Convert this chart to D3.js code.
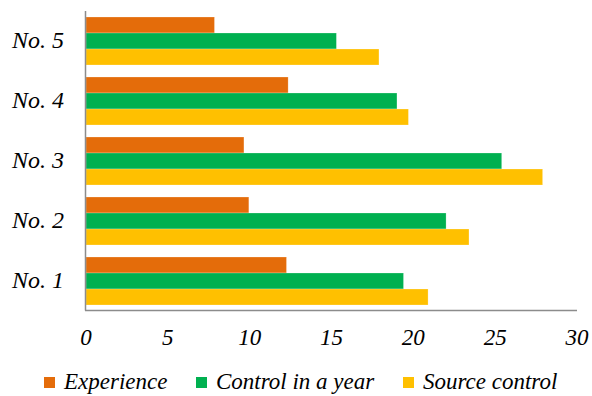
<!DOCTYPE html>
<html>
<head>
<meta charset="utf-8">
<script src="https://cdn.jsdelivr.net/npm/d3@7"></script>
<style>
  body { margin: 0; background: #fff; }
</style>
</head>
<body>
<div id="chart"></div>
<script>
const categories = ["No. 1", "No. 2", "No. 3", "No. 4", "No. 5"];
const seriesNames = ["Experience", "Control in a year", "Source control"];
const experience = [12.25, 9.95, 9.65, 12.35, 7.85];
const controlYear = [19.4, 22.0, 25.4, 19.0, 15.3];
const sourceControl = [20.9, 23.4, 27.9, 19.7, 17.9];
const xTicks = [0, 5, 10, 15, 20, 25, 30];
const colors = ["#E46C0A", "#00B050", "#FFC000"];

const W = 592, H = 396;
const FONT = "'Liberation Serif', 'Times New Roman', serif";

const svg = d3.select("#chart").append("svg")
    .attr("width", W)
    .attr("height", H)
    .attr("font-family", FONT)
    .attr("font-style", "italic");

const x = d3.scaleLinear().domain([0, 30]).range([86, 577]);

// top category (No. 5) drawn first
const y = d3.scaleBand()
    .domain(categories.slice().reverse())
    .range([11, 311])
    .paddingInner(0.2)
    .paddingOuter(0.1);

const sub = d3.scaleBand()
    .domain(seriesNames)
    .range([0, y.bandwidth()]);

const allSeries = [experience, controlYear, sourceControl];
const rows = [];
categories.forEach((c, i) => {
    seriesNames.forEach((s, j) => {
        rows.push({ cat: c, series: s, value: allSeries[j][i], color: colors[j] });
    });
});

svg.append("g").selectAll("rect")
    .data(rows)
    .join("rect")
    .attr("x", x(0))
    .attr("y", d => y(d.cat) + sub(d.series))
    .attr("width", d => x(d.value) - x(0))
    .attr("height", sub.bandwidth())
    .attr("fill", d => d.color)
    .attr("stroke", "#fff")
    .attr("stroke-opacity", 0.4)
    .attr("stroke-width", 0.6);

// axis lines
svg.append("line")
    .attr("x1", 85.5).attr("x2", 85.5)
    .attr("y1", 11).attr("y2", 310.5)
    .attr("stroke", "#8c8c8c").attr("stroke-width", 1.5);
svg.append("line")
    .attr("x1", 85).attr("x2", 577)
    .attr("y1", 310.5).attr("y2", 310.5)
    .attr("stroke", "#8c8c8c").attr("stroke-width", 1.5);

// x tick labels
svg.append("g").selectAll("text")
    .data(xTicks)
    .join("text")
    .attr("x", d => x(d))
    .attr("y", 345)
    .attr("text-anchor", "middle")
    .attr("font-size", 23)
    .attr("fill", "#000")
    .text(d => d);

// category labels
svg.append("g").selectAll("text")
    .data(categories)
    .join("text")
    .attr("x", 64)
    .attr("y", d => y(d) + y.bandwidth() / 2 + 7)
    .attr("text-anchor", "end")
    .attr("font-size", 24)
    .attr("fill", "#000")
    .text(d => d);

// legend
const legendX = [44, 196, 403];
const legend = svg.append("g").selectAll("g")
    .data(seriesNames)
    .join("g")
    .attr("transform", (d, i) => `translate(${legendX[i]}, 0)`);
legend.append("rect")
    .attr("x", 0).attr("y", 377)
    .attr("width", 11).attr("height", 11)
    .attr("fill", (d, i) => colors[i]);
legend.append("text")
    .attr("x", 20).attr("y", 389)
    .attr("font-size", 23)
    .attr("fill", "#000")
    .text(d => d);
</script>
</body>
</html>
